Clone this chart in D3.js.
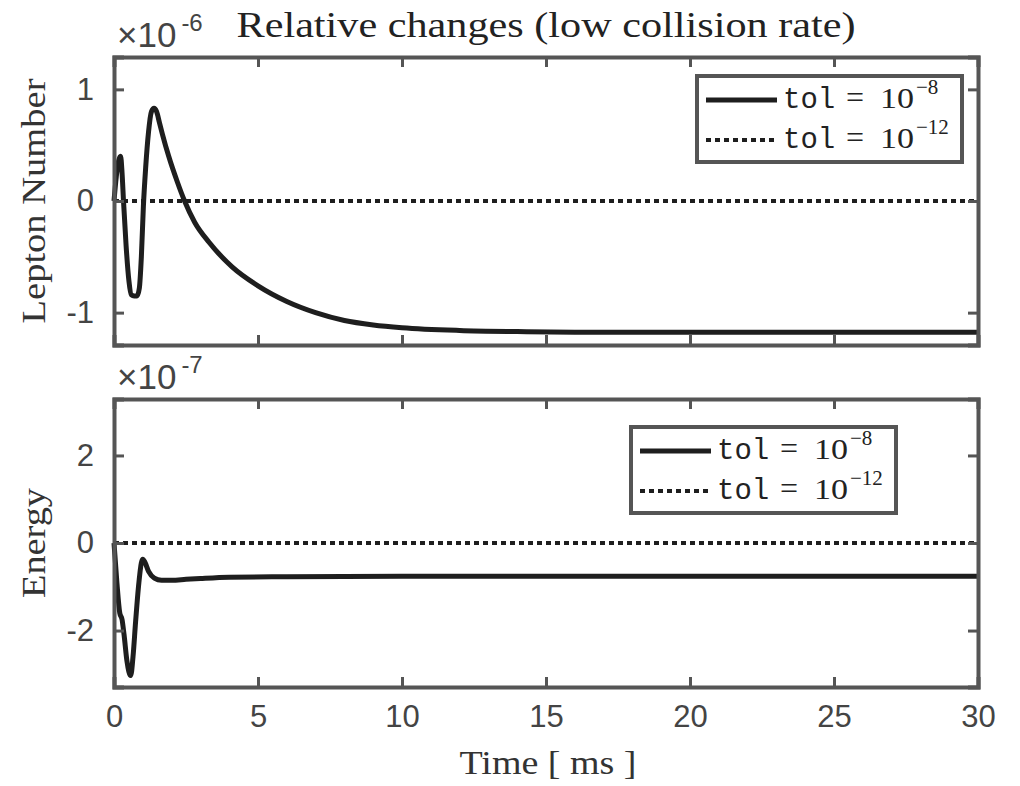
<!DOCTYPE html>
<html>
<head>
<meta charset="utf-8">
<script src="https://cdn.jsdelivr.net/npm/d3@7"></script>
<style>
  body { margin: 0; background: #fff; }
  svg { display: block; }
</style>
</head>
<body>
<svg id="chart" width="1020" height="786"></svg>
<script>
// time axis (ms)
const xTicks = [0, 5, 10, 15, 20, 25, 30];

// lepton number relative change, units of 1e-6
const leptonTime = [0, 0.08, 0.16, 0.23, 0.28, 0.33, 0.42, 0.52, 0.6, 0.7, 0.8, 0.88, 0.95, 1.02, 1.1, 1.2, 1.3, 1.39, 1.48, 1.58, 1.68, 1.9, 2.2, 2.45, 2.8, 3.3, 4.1, 5, 6, 7, 8, 9, 10, 12, 14, 16, 20, 25, 30];
const leptonTol8 = [0, 0.22, 0.36, 0.40, 0.25, 0.0, -0.4, -0.72, -0.84, -0.85, -0.85, -0.78, -0.5, -0.05, 0.3, 0.62, 0.8, 0.83, 0.8, 0.7, 0.6, 0.4, 0.17, 0, -0.19, -0.37, -0.59, -0.76, -0.9, -1.0, -1.07, -1.11, -1.135, -1.16, -1.17, -1.175, -1.175, -1.175, -1.175];
const leptonTicks = [-1, 0, 1];

// energy relative change, units of 1e-7
const energyTime = [0, 0.1, 0.2, 0.28, 0.35, 0.45, 0.58, 0.66, 0.75, 0.85, 0.95, 1.0, 1.08, 1.2, 1.4, 1.65, 2, 2.5, 3, 4, 6, 10, 20, 30];
const energyTol8 = [0, -0.9, -1.6, -1.75, -2.1, -2.7, -3.03, -2.6, -1.8, -1.0, -0.45, -0.37, -0.45, -0.65, -0.8, -0.85, -0.85, -0.83, -0.81, -0.78, -0.77, -0.76, -0.76, -0.76];
const energyTicks = [-2, 0, 2];

// tol = 1e-12 stays at zero
const zeroTime = [0, 30];
const zeroVals = [0, 0];

const axisColor = '#555';
const tickTextColor = '#444';
const lineColor = '#1e1e1e';
const serif = "'Liberation Serif', 'DejaVu Serif', serif";
const sans = "'Liberation Sans', Arial, sans-serif";
const mono = "'Liberation Mono', 'DejaVu Sans Mono', monospace";

const svg = d3.select('#chart');

const x = d3.scaleLinear().domain([0, 30]).range([114, 978]);

const panels = [
  { top: 57, bottom: 345, domain: [-1.29, 1.29], ticks: leptonTicks, t: leptonTime, v: leptonTol8,
    label: 'Lepton Number', labelLen: 245, exp: '-6', legend: { x: 697, y: 76 }, showX: false },
  { top: 399, bottom: 687, domain: [-3.29, 3.29], ticks: energyTicks, t: energyTime, v: energyTol8,
    label: 'Energy', labelLen: 110, exp: '-7', legend: { x: 631, y: 427 }, showX: true }
];

panels.forEach(p => {
  const y = d3.scaleLinear().domain(p.domain).range([p.bottom, p.top]);
  const g = svg.append('g');

  // data lines
  const line = d3.line()
    .x(d => x(d[0]))
    .y(d => y(d[1]))
    .curve(d3.curveMonotoneX);

  g.append('path')
    .datum(zeroTime.map((t, i) => [t, zeroVals[i]]))
    .attr('d', line)
    .attr('fill', 'none')
    .attr('stroke', lineColor)
    .attr('stroke-width', 4)
    .attr('stroke-dasharray', '5,4');

  g.append('path')
    .datum(p.t.map((t, i) => [t, p.v[i]]))
    .attr('d', line)
    .attr('fill', 'none')
    .attr('stroke', lineColor)
    .attr('stroke-width', 5)
    .attr('stroke-linejoin', 'round');

  // axes (inward ticks on all four sides)
  const fmt = d => String(d);
  const axes = [
    { ax: d3.axisBottom(x).tickValues(xTicks).tickFormat(fmt).tickSize(-10).tickPadding(18), tr: `translate(0,${p.bottom})`, labels: p.showX },
    { ax: d3.axisTop(x).tickValues(xTicks).tickSize(-10), tr: `translate(0,${p.top})`, labels: false },
    { ax: d3.axisLeft(y).tickValues(p.ticks).tickFormat(fmt).tickSize(-10).tickPadding(20), tr: `translate(${x(0)},0)`, labels: true },
    { ax: d3.axisRight(y).tickValues(p.ticks).tickSize(-10), tr: `translate(${x(30)},0)`, labels: false }
  ];
  axes.forEach(a => {
    const ag = g.append('g').attr('transform', a.tr).call(a.ax);
    ag.select('.domain').attr('stroke', axisColor).attr('stroke-width', 4);
    ag.selectAll('.tick line').attr('stroke', axisColor).attr('stroke-width', 3);
    ag.selectAll('.tick text')
      .attr('fill', tickTextColor)
      .style('font-family', sans)
      .style('font-size', '31px')
      .style('display', a.labels ? null : 'none');
  });

  // exponent label
  const ex = svg.append('text')
    .attr('x', 117).attr('y', p.top - 10)
    .attr('fill', tickTextColor)
    .style('font-family', sans)
    .style('font-size', '35px');
  ex.append('tspan').text('\u00d710');
  ex.append('tspan').attr('dx', 5).attr('dy', -16).style('font-size', '24px').text(p.exp);

  // y label
  svg.append('text')
    .attr('transform', `translate(45,${(p.top + p.bottom) / 2}) rotate(-90)`)
    .attr('text-anchor', 'middle')
    .attr('fill', '#333')
    .attr('textLength', p.labelLen)
    .attr('lengthAdjust', 'spacingAndGlyphs')
    .style('font-family', serif)
    .style('font-size', '34px')
    .text(p.label);

  // legend
  const lg = svg.append('g').attr('transform', `translate(${p.legend.x},${p.legend.y})`);
  lg.append('rect')
    .attr('width', 265).attr('height', 86)
    .attr('fill', '#fff')
    .attr('stroke', axisColor)
    .attr('stroke-width', 4);
  const entries = [
    { exp: '\u22128', dash: null },
    { exp: '\u221212', dash: '5,4' }
  ];
  entries.forEach((e, i) => {
    const cy = 24 + i * 40;
    lg.append('line')
      .attr('x1', 9).attr('x2', 80)
      .attr('y1', cy).attr('y2', cy)
      .attr('stroke', lineColor)
      .attr('stroke-width', e.dash ? 4 : 5)
      .attr('stroke-dasharray', e.dash);
    lg.append('text')
      .attr('x', 86).attr('y', cy + 8)
      .attr('fill', '#222')
      .style('font-family', mono)
      .style('font-size', '29px')
      .text('tol');
    lg.append('text')
      .attr('x', 158).attr('y', cy + 8)
      .attr('text-anchor', 'middle')
      .attr('fill', '#222')
      .style('font-family', serif)
      .style('font-size', '32px')
      .text('=');
    lg.append('text')
      .attr('x', 183).attr('y', cy + 8)
      .attr('fill', '#222')
      .attr('textLength', 34)
      .attr('lengthAdjust', 'spacingAndGlyphs')
      .style('font-family', serif)
      .style('font-size', '30px')
      .text('10');
    lg.append('text')
      .attr('x', 219).attr('y', cy - 6)
      .attr('fill', '#222')
      .style('font-family', serif)
      .style('font-size', '21px')
      .text(e.exp);
  });
});

// title
svg.append('text')
  .attr('x', 546).attr('y', 37)
  .attr('text-anchor', 'middle')
  .attr('fill', '#222')
  .attr('textLength', 619)
  .attr('lengthAdjust', 'spacingAndGlyphs')
  .style('font-family', serif)
  .style('font-size', '35px')
  .text('Relative changes (low collision rate)');

// x label
svg.append('text')
  .attr('x', 548).attr('y', 774)
  .attr('text-anchor', 'middle')
  .attr('fill', '#333')
  .attr('textLength', 177)
  .attr('lengthAdjust', 'spacingAndGlyphs')
  .style('font-family', serif)
  .style('font-size', '33px')
  .text('Time [ ms ]');
</script>
</body>
</html>
